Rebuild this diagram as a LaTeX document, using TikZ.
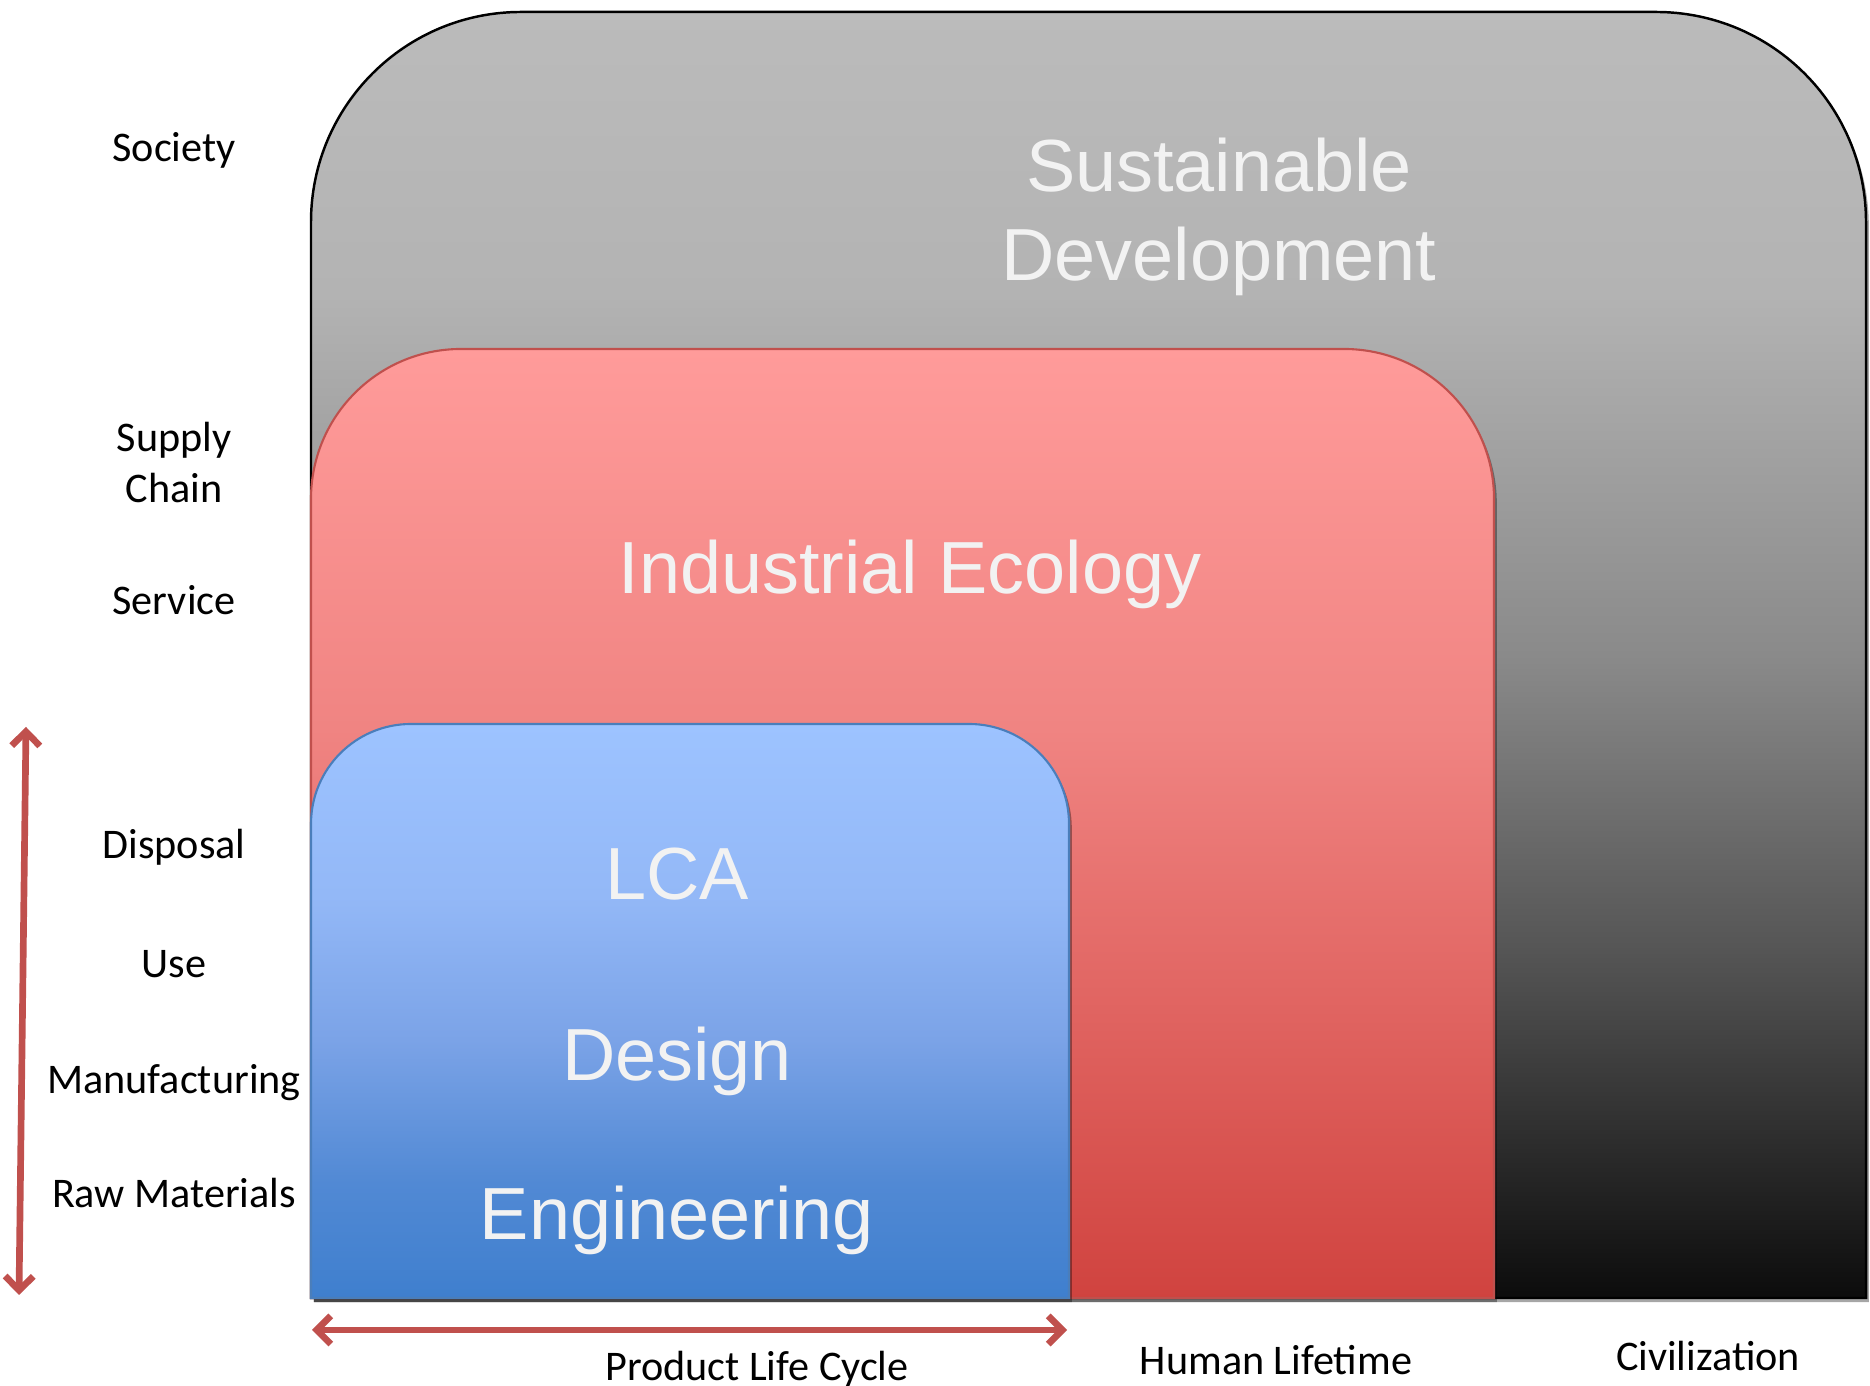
\documentclass[tikz,border=0pt]{standalone}
\usepackage{fontspec}
\newfontfamily\boxfont{Liberation Sans}
\newfontfamily\labfont{Carlito}
\usetikzlibrary{arrows.meta,shadows}
\definecolor{gt}{HTML}{BBBBBB}
\definecolor{g1}{HTML}{B3B3B3}
\definecolor{g2}{HTML}{8A8A8A}
\definecolor{g3}{HTML}{555555}
\definecolor{gb}{HTML}{0C0C0C}
\definecolor{rt}{HTML}{FF9B9A}
\definecolor{rm}{HTML}{F08482}
\definecolor{rb}{HTML}{D0433F}
\definecolor{bt}{HTML}{9DC3FF}
\definecolor{b1}{HTML}{93B8F7}
\definecolor{b2}{HTML}{7BA3E7}
\definecolor{b3}{HTML}{5189D4}
\definecolor{bb}{HTML}{3F7FCE}
\definecolor{arrred}{HTML}{C0504D}
\definecolor{redline}{HTML}{C0504D}
\definecolor{blueline}{HTML}{4A7EBB}
\definecolor{txtc}{HTML}{F2F2F2}
\pgfdeclareverticalshading{greysh}{100bp}{color(0bp)=(gb); color(25bp)=(gb); color(38.5bp)=(g3); color(50bp)=(g2); color(64bp)=(g1); color(75bp)=(gt); color(100bp)=(gt)}
\pgfdeclareverticalshading{redsh}{100bp}{color(0bp)=(rb); color(25bp)=(rb); color(55bp)=(rm); color(75bp)=(rt); color(100bp)=(rt)}
\pgfdeclareverticalshading{bluesh}{100bp}{color(0bp)=(bb); color(25bp)=(bb); color(35bp)=(b3); color(47.5bp)=(b2); color(60bp)=(b1); color(75bp)=(bt); color(100bp)=(bt)}
\tikzset{
  boxshadow/.style={drop shadow={shadow xshift=0.8pt, shadow yshift=-1.2pt, opacity=0.35, fill=black}},
  boxtext/.style={font=\boxfont\fontsize{21}{25.3}\selectfont, text=txtc, inner sep=0pt, align=center},
  lab/.style={font=\labfont\fontsize{12}{14.6}\selectfont, text=black, inner sep=0pt, align=center},
  arr/.style={draw=arrred, line width=1.9pt, {Straight Barb[length=4pt,width=8pt]}-{Straight Barb[length=4pt,width=8pt]}}
}
\begin{document}
\begin{tikzpicture}[x=0.01cm,y=0.01cm]
\useasboundingbox (0,0) rectangle (1870,1386);
\fill[white] (0,0) rectangle (1870,1386);
% Sustainable Development box
\path[shading=greysh, draw=black, line width=0.7pt, boxshadow]
  (311,88) -- (311,1164) arc[start angle=180, end angle=90, radius=210]
  -- (1656,1374) arc[start angle=90, end angle=0, radius=210] -- (1866,88) -- cycle;
% Industrial Ecology box
\path[shading=redsh, draw=redline, line width=0.6pt, boxshadow]
  (311,88) -- (311,887) arc[start angle=180, end angle=90, radius=150]
  -- (1344,1037) arc[start angle=90, end angle=0, radius=150] -- (1494,88) -- cycle;
% LCA box
\path[shading=bluesh, draw=blueline, line width=0.6pt, boxshadow]
  (311,88) -- (311,562) arc[start angle=180, end angle=90, radius=100]
  -- (969,662) arc[start angle=90, end angle=0, radius=100] -- (1069,88) -- cycle;
% box texts
\node[boxtext] (sd) at (1219,1169) {Sustainable\\Development};
\node[boxtext, anchor=base] (ie) at (910,792) {Industrial Ecology};
\node[boxtext, anchor=base] (lca) at (677,486) {LCA};
\node[boxtext, anchor=base] (des) at (677,305) {Design};
\node[boxtext, anchor=base] (eng) at (677,146) {Engineering};
% left labels
\node[lab, anchor=base] (soc) at (174,1224) {Society};
\node[lab, anchor=base] (sup) at (174,883) {Supply\\Chain};
\node[lab, anchor=base] (ser) at (174,771) {Service};
\node[lab, anchor=base] (dis) at (174,527) {Disposal};
\node[lab, anchor=base] (use) at (174,408) {Use};
\node[lab, anchor=base] (man) at (174,292) {Manufacturing};
\node[lab, anchor=base] (raw) at (174,178) {Raw Materials};
% bottom labels
\node[lab, anchor=base] (plc) at (757,5) {Product Life Cycle};
\node[lab, anchor=base] (hl) at (1276,11) {Human Lifetime};
\node[lab, anchor=base] (civ) at (1708,15) {Civilization};
% arrows
\coordinate (vtop) at (26,659);
\coordinate (vbot) at (19,91);
\coordinate (hl1) at (312,56);
\coordinate (hr1) at (1067,56);
\draw[arr] (vbot) -- (vtop);
\draw[arr] (hl1) -- (hr1);
\end{tikzpicture}
\end{document}
